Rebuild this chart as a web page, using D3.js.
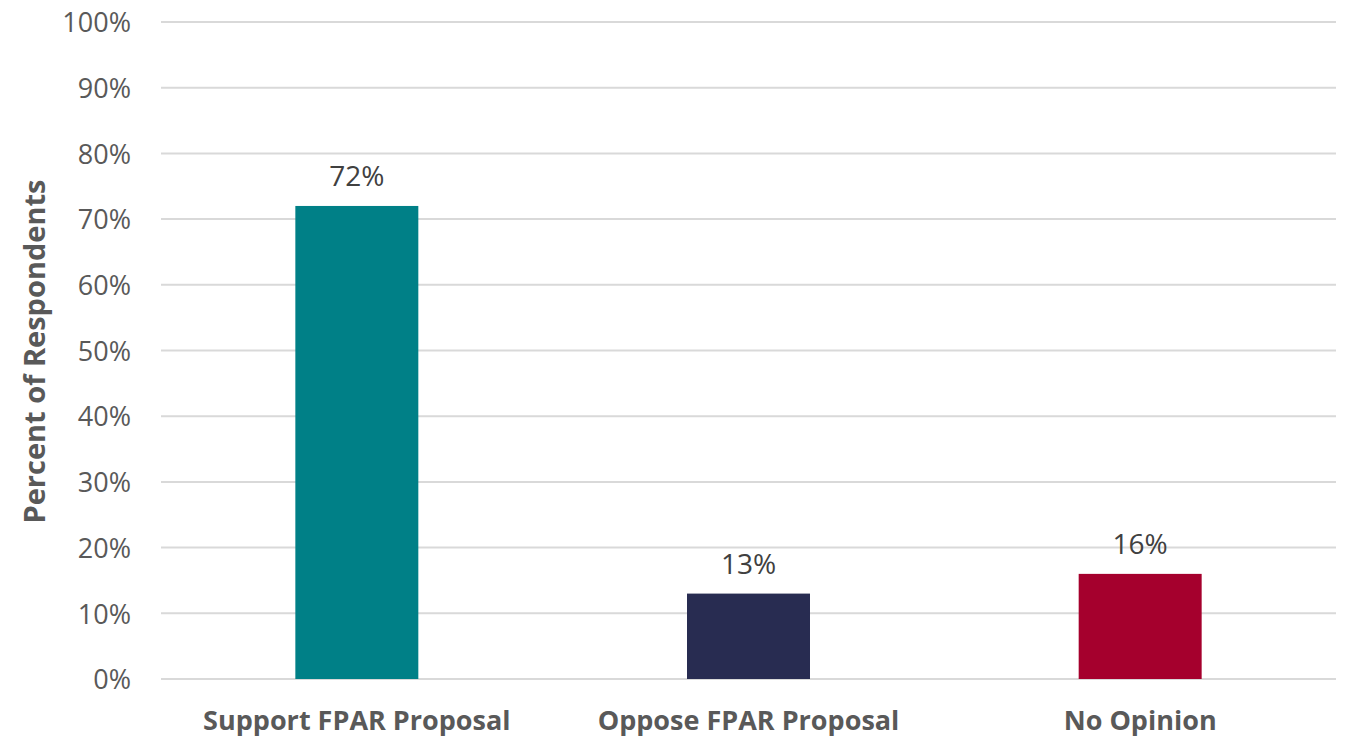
<!DOCTYPE html>
<html>
<head>
<meta charset="utf-8">
<style>
  body { margin: 0; background: #fff; }
  svg text { font-family: "Open Sans", sans-serif; }
</style>
</head>
<body>
<svg width="1345" height="738"></svg>
<script src="https://cdn.jsdelivr.net/npm/d3@7"></script>
<script>
var categories = ["Support FPAR Proposal", "Oppose FPAR Proposal", "No Opinion"];
var values = [72, 13, 16];
var colors = ["#008087", "#282C51", "#A5002D"];
var yTicks = [0, 10, 20, 30, 40, 50, 60, 70, 80, 90, 100];

var svg = d3.select("svg"),
    margin = {top: 22, right: 9, bottom: 59, left: 161},
    width = +svg.attr("width") - margin.left - margin.right,
    height = +svg.attr("height") - margin.top - margin.bottom;

var g = svg.append("g")
    .attr("transform", "translate(" + margin.left + "," + margin.top + ")");

var x = d3.scaleBand()
    .domain(categories)
    .range([0, width])
    .paddingInner(0.686)
    .paddingOuter(0.343);

var y = d3.scaleLinear()
    .domain([0, 100])
    .range([height, 0]);

// gridlines
g.append("g")
    .selectAll("line")
    .data(yTicks)
    .enter().append("line")
      .attr("x1", 0)
      .attr("x2", width)
      .attr("y1", function(d) { return y(d); })
      .attr("y2", function(d) { return y(d); })
      .attr("stroke", "#d9d9d9")
      .attr("stroke-width", 2);

// y axis labels
var yAxis = g.append("g")
    .call(d3.axisLeft(y).tickValues(yTicks).tickSize(0).tickPadding(30)
      .tickFormat(function(d) { return d + "%"; }));
yAxis.select(".domain").remove();
yAxis.selectAll("text")
    .attr("fill", "#595959")
    .style("font-size", "27px")
    .attr("dy", "0.36em");

// bars
g.selectAll("rect.bar")
    .data(values)
    .enter().append("rect")
      .attr("class", "bar")
      .attr("x", function(d, i) { return x(categories[i]); })
      .attr("width", x.bandwidth())
      .attr("y", function(d) { return y(d); })
      .attr("height", function(d) { return height - y(d); })
      .attr("fill", function(d, i) { return colors[i]; });

// data labels
g.selectAll("text.val")
    .data(values)
    .enter().append("text")
      .attr("class", "val")
      .attr("x", function(d, i) { return x(categories[i]) + x.bandwidth() / 2; })
      .attr("y", function(d) { return y(d) - 20; })
      .attr("text-anchor", "middle")
      .attr("fill", "#404040")
      .style("font-size", "28px")
      .text(function(d) { return d + "%"; });

// x axis labels
var xAxis = g.append("g")
    .attr("transform", "translate(0," + height + ")")
    .call(d3.axisBottom(x).tickSize(0).tickPadding(0));
xAxis.select(".domain").remove();
xAxis.selectAll("text")
    .attr("fill", "#595959")
    .attr("dy", 0)
    .attr("y", 51)
    .style("font-size", "27px")
    .style("font-weight", "bold");

// y title
svg.append("text")
    .attr("transform", "translate(45," + (margin.top + height / 2 + 1) + ") rotate(-90)")
    .attr("text-anchor", "middle")
    .attr("fill", "#595959")
    .style("font-size", "29px")
    .style("font-weight", "bold")
    .text("Percent of Respondents");
</script>
</body>
</html>
